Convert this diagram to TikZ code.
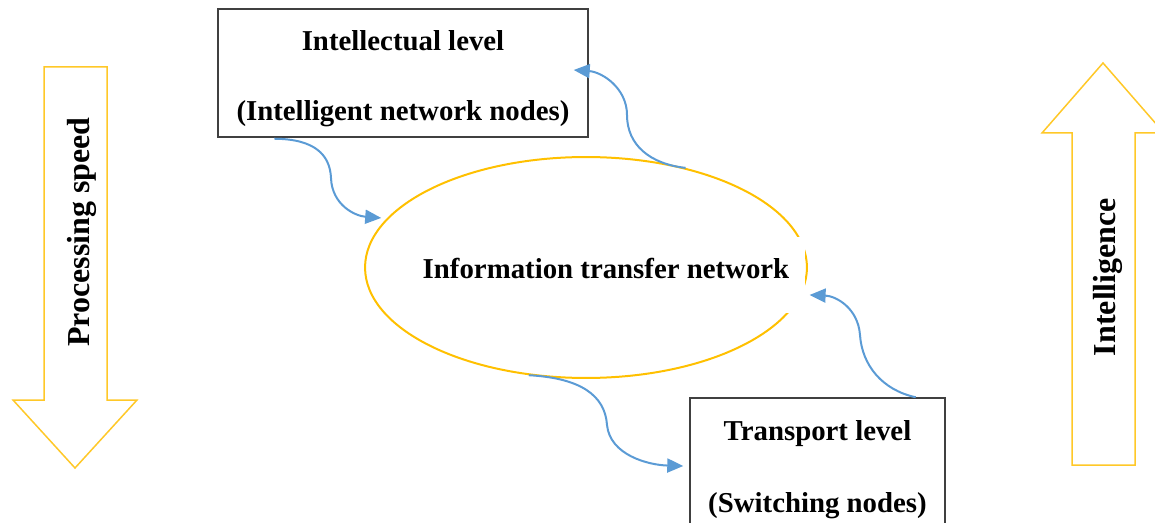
\documentclass[tikz,border=0pt]{standalone}
\usepackage{fontspec}
\setmainfont{Liberation Serif}
\usepackage{xcolor}
\usepackage{tikz}
\usetikzlibrary{arrows.meta,shapes.geometric,calc,positioning}

\definecolor{flowblue}{RGB}{91,155,213}
\definecolor{ringgold}{RGB}{255,192,0}
\definecolor{sidegold}{RGB}{255,200,40}
\definecolor{boxgray}{RGB}{64,64,64}

\begin{document}
\begin{tikzpicture} [x=0.02cm, y=-0.02cm,
		levelbox/.style={draw=boxgray, line width=0.03cm, align=center, inner sep=0pt, text depth=0cm, font=\bfseries\fontsize{16.4}{40}\selectfont},
		flow/.style={draw=flowblue, line width=0.04cm, -{Triangle[length=0.32cm,width=0.28cm]}},
		bigarrow/.style={draw=sidegold, line width=0.03cm, line join=miter},
		sidetext/.style={rotate=90, font=\bfseries\fontsize{18.2}{22}\selectfont}]
		
		\useasboundingbox (0,0) rectangle (1155,523);
		
		\clip (0,0) rectangle (1155,523);
		
		\node (Intel_L) [levelbox, minimum width=7.4cm, minimum height=2.56cm, text height=1.9cm] at (403,73) {Intellectual level\\(Intelligent network nodes)};
		
		\node (Trans_L) [levelbox, minimum width=5.1cm, minimum height=2.72cm, text height=1.86cm] at (817.5,466) {Transport level\\[1pt](Switching nodes)};
		
		\node (Ring) [ellipse, draw=ringgold, line width=0.04cm, minimum width=8.84cm, minimum height=4.42cm, inner sep=0pt] at (586,267.5) {};
		
		% the label box is white and hides a bit of the ring on the right
		\node (Net_T) [fill=white, inner sep=0pt, minimum width=7.96cm, text height=0.82cm, text depth=0.7cm, anchor=base, font=\bfseries\fontsize{16.4}{20}\selectfont] at (606,278) {Information transfer network};
		
		
		\draw [flow] ($(Intel_L.south west)+(57,1)$) .. controls (315,139) and (330,155) .. (331,178) .. controls (332,205) and (355,216) .. ($(Ring.166)+(-6,0)$);
		
		\draw [flow] (Ring.45) .. controls (650,164) and (627,145) .. (627,115) .. controls (627,88) and (602,72) .. ($(Intel_L.east)+(-15,-3)$);
		
		\draw [flow] (Ring.242) .. controls (580,378) and (605,395) .. (607,425) .. controls (610,455) and (648,465) .. ($(Trans_L.west)+(-6,0)$);
		
		\draw [flow] ($(Trans_L.north east)+(-30,0)$) .. controls (882,390) and (862,365) .. (860,335) .. controls (858,308) and (836,296) .. ($(Ring.-7)+(8,1)$);
		
		
		\draw [bigarrow] (44,67) -- (107,67) -- (107,400) -- (137,400) -- (75,468) -- (13,400) -- (44,400) -- cycle;
		
		\node (Speed_T) [sidetext] at (82,232) {Processing speed};
		
		\draw [bigarrow] (1072,465) -- (1072,133) -- (1042,133) -- (1103,63) -- (1164,133) -- (1135,133) -- (1135,465) -- cycle;
		
		\node (Intel_T) [sidetext] at (1108,277) {Intelligence};
		
\end{tikzpicture}
\end{document}
